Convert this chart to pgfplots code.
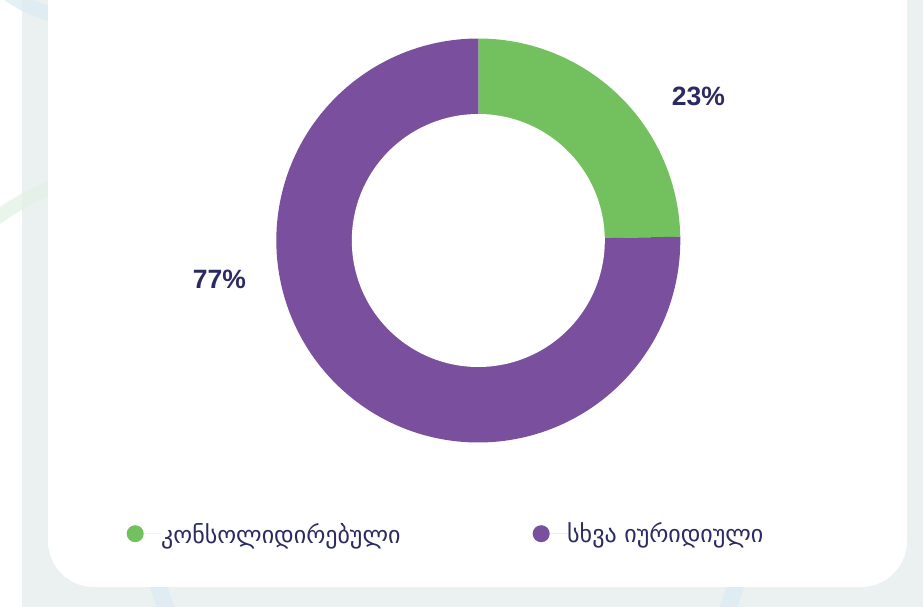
\documentclass[border=0pt]{standalone}
\usepackage{pgfplots}
\pgfplotsset{compat=1.18}
\usepackage{fontspec}
\setmainfont{Liberation Sans}
\newfontfamily\geo{DejaVu Sans}

\definecolor{cgreen}{HTML}{73C15E}
\definecolor{cpurple}{HTML}{7A509E}
\definecolor{cnavy}{HTML}{2B2A62}
\definecolor{cbg}{HTML}{EBF1F1}
\definecolor{ringblue}{HTML}{DDEDF3}
\definecolor{ringgreen}{HTML}{E4F2E6}

% slice shares as drawn (labels read 23% / 77%)
\def\shareA{24.7}
\def\shareB{75.3}
\def\cx{478.3}\def\cy{240.5}\def\Ro{202}\def\Ri{126.5}
\pgfmathsetmacro\angA{90-3.6*\shareA}
\pgfmathsetmacro\angB{\angA-3.6*\shareB}

\begin{document}
\begin{tikzpicture}
% background (pixel coordinates, y downwards)
\begin{scope}[x=1pt,y=-1pt,yshift=607pt]
  \clip (0,0) rectangle (923,607);
  \fill[white] (0,0) rectangle (923,607);
  \fill[cbg] (22,0) rectangle (923,607);
  \draw[ringblue, line width=15pt, opacity=0.8] (90,-120) circle (140);
  \draw[ringblue, line width=17pt, opacity=0.8] (447,497) circle (302);
  \begin{scope}
    \clip (0,0) rectangle (60,400);
    \draw[ringgreen, line width=14pt, opacity=0.8] (171,462) circle (300);
  \end{scope}
  \fill[white, rounded corners=46pt] (48,-80) rectangle (907,587);
\end{scope}
\begin{axis}[
  at={(0,0)}, anchor=south west,
  scale only axis, width=923pt, height=607pt,
  xmin=0, xmax=923, ymin=0, ymax=607, y dir=reverse,
  hide axis, clip=false,
  legend columns=2,
  legend style={at={(axis cs:126.5,533.7)}, anchor=west, draw=none, fill=none,
    inner sep=0pt, nodes={inner sep=0pt}, column sep=0pt, row sep=0pt,
    font=\geo\fontsize{24}{28}\selectfont, text=cnavy},
  legend image code/.code={\fill[#1] (0pt,0pt) circle (8.5pt);
    \path (-8.5pt,0pt) -- (26pt,0pt);},
]
\addplot[fill=cgreen, draw=none, domain=\angA:90, samples=120, variable=\t]
  ({\cx+\Ro*cos(\t)},{\cy-\Ro*sin(\t)}) -- (axis cs:\cx,\cy) -- cycle;
\addlegendentry{\makebox[371.5pt][l]{კონსოლიდირებული}}
\addplot[fill=cpurple, draw=none, domain=\angB:\angA, samples=240, variable=\t]
  ({\cx+\Ro*cos(\t)},{\cy-\Ro*sin(\t)}) -- (axis cs:\cx,\cy) -- cycle;
\addlegendentry{სხვა იურიდიული}
\addplot[fill=white, draw=none, domain=0:360, samples=240, variable=\t, forget plot]
  ({\cx+\Ri*cos(\t)},{\cy-\Ri*sin(\t)}) -- cycle;
\node[font=\bfseries\fontsize{26.5}{30}\selectfont, text=cnavy] at (axis cs:698.5,96.7) {23\%};
\node[font=\bfseries\fontsize{26.5}{30}\selectfont, text=cnavy] at (axis cs:219.5,279) {77\%};
\end{axis}
\end{tikzpicture}
\end{document}
